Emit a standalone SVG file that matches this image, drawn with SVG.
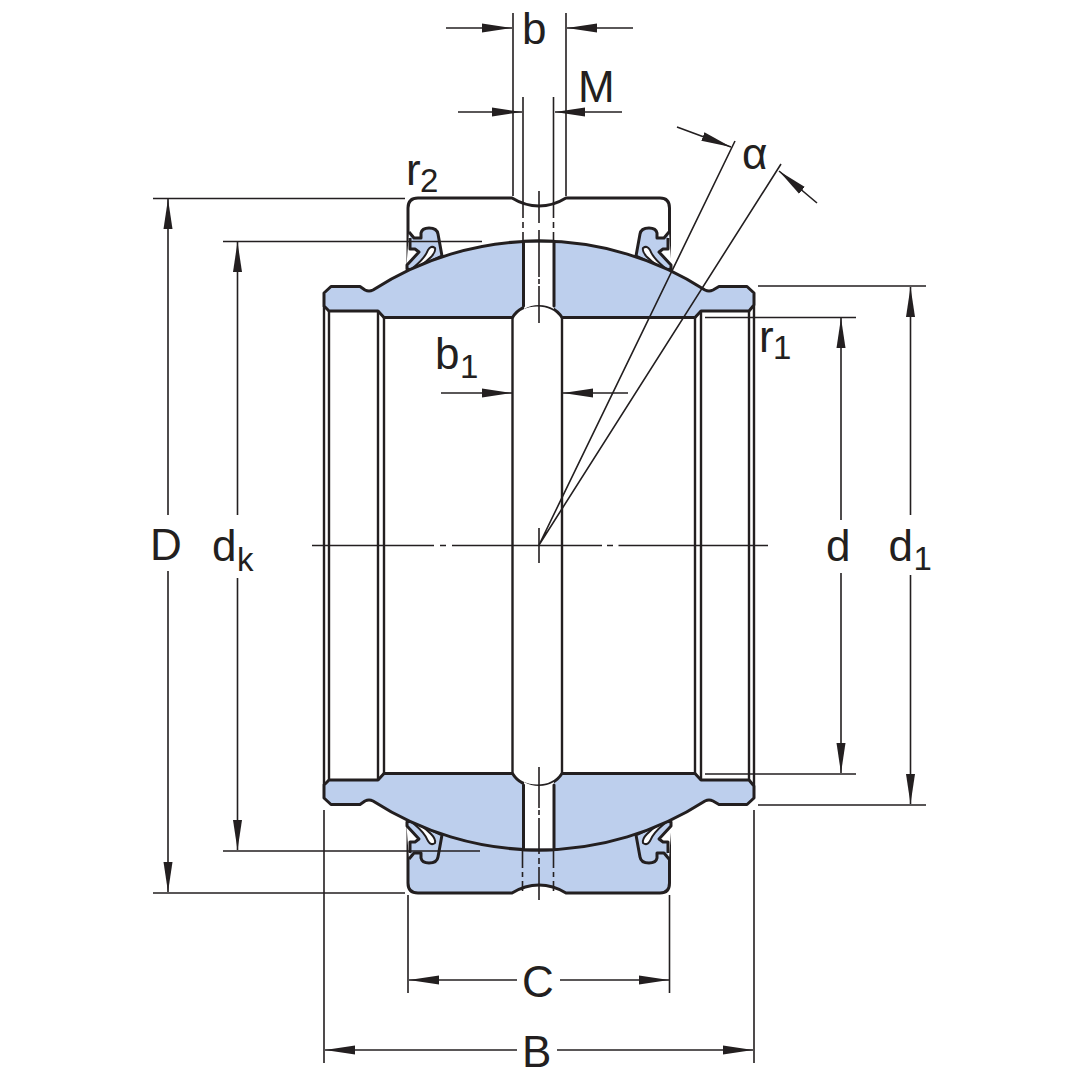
<svg xmlns="http://www.w3.org/2000/svg" xmlns:xlink="http://www.w3.org/1999/xlink" width="1080" height="1080" viewBox="0 0 1080 1080">
<style>
.o{fill:none;stroke:#231f20;stroke-width:3;stroke-linejoin:round;stroke-linecap:round}
.b{fill:#bdcfed;stroke:#231f20;stroke-width:3;stroke-linejoin:round}
.w{fill:#fff;stroke:none}
.s{fill:none;stroke:#231f20;stroke-width:2.4}
.t{fill:none;stroke:#231f20;stroke-width:1.6}
.a{marker-end:url(#arr)}
text{font-family:"Liberation Sans",Arial,sans-serif;font-size:44px;fill:#231f20}
.u{font-size:33px}
</style>
<defs>
<marker id="arr" markerUnits="userSpaceOnUse" markerWidth="31" markerHeight="11" refX="30" refY="5.500" orient="auto"><path d="M0,1L30,5.500L0,10Z" fill="#231f20"/></marker>
<g id="seal">
<path class="w" d="M409,232L414,238H438L442,258L406,272Z"/>
<path class="b" d="M409,232L414,238H421V233Q422,228 429,228Q437,228 438,234L442,256L412,270L407,269V265L419,252L415,249H410V238"/>
<path fill="#fff" stroke="#231f20" stroke-width="2" d="M414,267Q425,258 428,250Q431,245 435,248Q436,252 431,257Q426,262 420,266Z"/>
</g>
</defs>
<g id="outer-ring">
<path class="b" d="M408,826V883Q408,893 418,893H512Q525,885 539,885Q553,885 566,893H660Q669.500,893 669.500,883V826Z"/>
<path class="o" d="M408,265V208Q408,198 418,198H512Q525,206 539,206Q553,206 566,198H660Q669.500,198 669.500,208V267"/>
</g>
<g id="seals">
<use xlink:href="#seal" href="#seal"/>
<use xlink:href="#seal" href="#seal" transform="matrix(-1 0 0 1 1078 0)"/>
<use xlink:href="#seal" href="#seal" transform="matrix(1 0 0 -1 0 1091)"/>
<use xlink:href="#seal" href="#seal" transform="matrix(-1 0 0 -1 1078 1091)"/>
</g>
<g id="inner-ring">
<rect class="w" x="326" y="311" width="426" height="470"/>
<path class="b" d="M324,293L331,286.500H360L365,290Q369,292 373,290A306,306 0 0 1 705,290Q709,292 713,290L719,286.500H747L754,293V305L749,311H701L695,317.500H562Q554,305 537,305Q520,305 512.500,317.500H384L378,311H329L324,306Z"/>
<path class="b" d="M324,798L331,804.500H360L365,801Q369,799 373,801A306,306 0 0 0 705,801Q709,799 713,801L719,804.500H747L754,798V786L749,780H701L695,773.500H562Q554,786 537,786Q520,786 512.500,773.500H384L378,780H329L324,785Z"/>
<path class="w" d="M524,242.500H554V309Q547,305 539,305Q531,305 524,309Z"/>
<path class="w" d="M524,782Q531,786 539,786Q547,786 554,782V848.500H524Z"/>
<path class="o" d="M523.500,243V306M554,243V306M523.500,785V848M554,785V848M523.500,241.300Q539,240.700 554,241.300M523.500,849.700Q539,850.300 554,849.700"/>
<path class="s" d="M324,306V785M329,311V780M378,311V780M384,317V774M512.500,317V774M562,317V774M695,317V774M701,311V780M749,311V780M754,306V785"/>
</g>
<g id="connectors">
<path class="t" d="M153,198.500H405M153,893H405M223,241.500H482M223,851H480M705,317.500H856M705,774H856M758,286H926M758,805H926"/>
<path class="t a" d="M168,515V199"/><path class="t a" d="M168,571V892"/>
<path class="t a" d="M237.500,515V242"/><path class="t a" d="M237.500,578V850"/>
<path class="t a" d="M841,520V318"/><path class="t a" d="M841,573V773"/>
<path class="t a" d="M910.500,515V287"/><path class="t a" d="M910.500,575V804"/>
<path class="t" d="M408,895V993M669.500,895V993M324,810V1063M754,810V1063"/>
<path class="t a" d="M517,980H409"/><path class="t a" d="M560,980H669"/>
<path class="t a" d="M517,1050H325"/><path class="t a" d="M557,1050H753"/>
<path class="t" d="M513,13V196M566,13V196M523,97V198M553.500,97V198"/>
<path class="t a" d="M446,28H512"/><path class="t a" d="M633,28H567"/>
<path class="t a" d="M458,112H522"/><path class="t a" d="M622,112H555"/>
<path class="t a" d="M441,393H512"/><path class="t a" d="M628,393H563"/>
<path class="t" d="M523,198V218M523,222V228M523,232V241M553.500,198V218M553.500,222V228M553.500,232V241M522.500,850V868M522.500,872V877M522.500,881V891M553.500,850V868M553.500,872V877M553.500,881V891"/>
<path class="t" d="M539,191V223M539,230V240M539,241V277M539,279V284M539,286V323M539,767V808M539,810V815M539,818V854M539,858V864M539,867V900"/>
<path class="t" d="M312,545.500H434M440,545.500H446M452,545.500H602M607,545.500H613M618.500,545.500H768M539,528V563"/>
<path class="t" d="M539,545L735,141M539,545L781,164"/>
<path class="t a" d="M677,127L731,147"/><path class="t a" d="M817,203L779,171"/>
</g>
<g id="labels">
<text x="522" y="44">b</text>
<text x="578" y="102">M</text>
<text x="742" y="169">α</text>
<text x="406" y="185">r</text><text class="u" x="420" y="192">2</text>
<text x="759" y="352">r</text><text class="u" x="773" y="359">1</text>
<text x="435" y="369">b</text><text class="u" x="460" y="378">1</text>
<text x="150" y="560">D</text>
<text x="212" y="561">d</text><text class="u" x="237" y="571">k</text>
<text x="826" y="561">d</text>
<text x="888.500" y="561">d</text><text class="u" x="913.500" y="570">1</text>
<text x="522" y="997">C</text>
<text x="522" y="1067">B</text>
</g>
</svg>
